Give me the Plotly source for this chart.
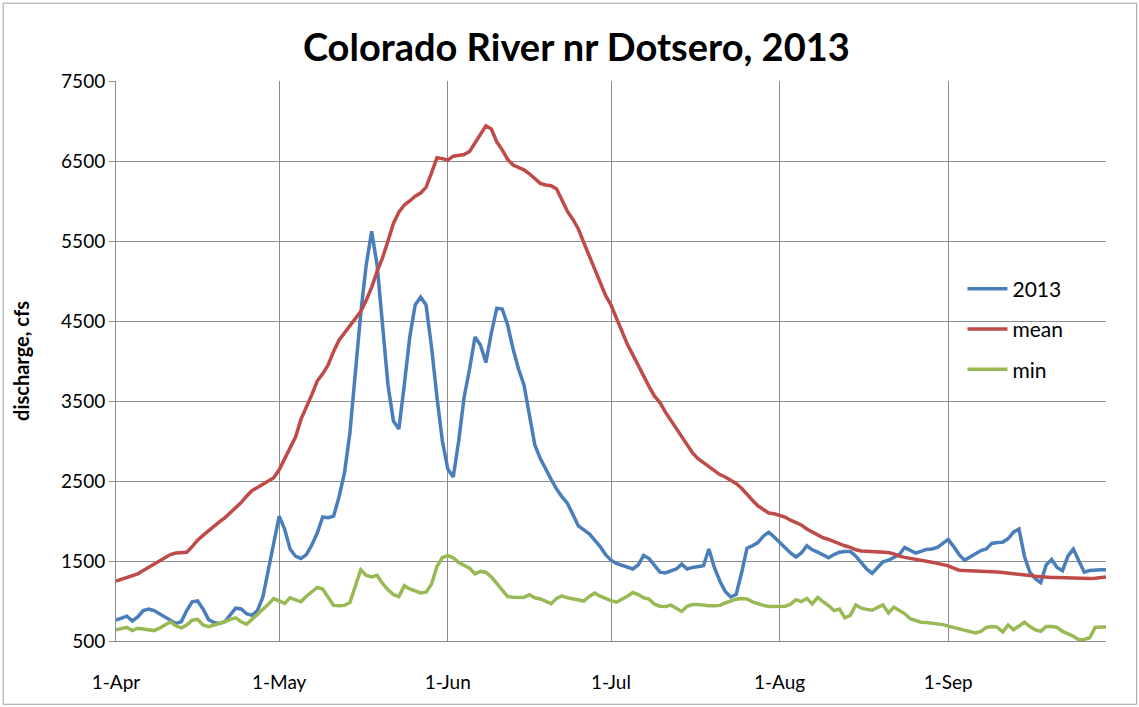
import pandas as pd
import plotly.graph_objects as go

start_date = "2013-04-01"
n_days = 183

flow_2013 = [
    760, 790, 810, 750, 800, 880, 900, 880, 840, 800,
    750, 720, 740, 880, 990, 1000, 900, 770, 730, 720,
    740, 820, 910, 900, 840, 820, 880, 1050, 1400, 1750,
    2060, 1900, 1650, 1560, 1530, 1580, 1700, 1850, 2050, 2040,
    2060, 2300, 2600, 3100, 3850, 4600, 5200, 5620, 5200, 4400,
    3700, 3250, 3150, 3700, 4300, 4700, 4800, 4700, 4180, 3550,
    3000, 2650, 2550, 3000, 3550, 3900, 4300, 4200, 3980, 4350,
    4660, 4650, 4450, 4150, 3900, 3700, 3300, 2950, 2780, 2640,
    2520, 2400, 2300, 2220, 2080, 1940, 1890, 1840, 1760, 1680,
    1580, 1510, 1470, 1450, 1430, 1400, 1450, 1570, 1530, 1440,
    1360, 1350, 1380, 1400, 1460, 1400, 1420, 1430, 1440, 1650,
    1420, 1250, 1120, 1050, 1080, 1350, 1660, 1690, 1730, 1810,
    1860, 1800, 1730, 1660, 1600, 1550, 1600, 1690, 1640, 1610,
    1570, 1540, 1580, 1610, 1620, 1620, 1560, 1480, 1400, 1345,
    1420, 1490, 1510, 1540, 1580, 1670, 1640, 1600, 1620, 1645,
    1650, 1670, 1720, 1770, 1680, 1580, 1510, 1550, 1600, 1630,
    1650, 1720, 1730, 1735, 1780, 1860, 1900, 1560, 1360, 1280,
    1230, 1450, 1520, 1420, 1380, 1560, 1650, 1500, 1360, 1380,
    1390, 1390, 1390,
]

flow_mean = [
    1250, 1270, 1300, 1310, 1340, 1380, 1420, 1460, 1500, 1540,
    1580, 1600, 1600, 1610, 1680, 1760, 1820, 1880, 1930, 1990,
    2040, 2100, 2160, 2230, 2310, 2380, 2420, 2460, 2500, 2540,
    2640, 2780, 2930, 3050, 3270, 3420, 3580, 3750, 3840, 3950,
    4120, 4260, 4350, 4450, 4540, 4620, 4760, 4920, 5120, 5290,
    5500, 5720, 5860, 5950, 6000, 6060, 6100, 6170, 6350, 6540,
    6530, 6510, 6560, 6570, 6580, 6620, 6730, 6850, 6940, 6900,
    6740, 6640, 6520, 6450, 6420, 6390, 6340, 6280, 6220, 6200,
    6190, 6150, 6020, 5870, 5770, 5650, 5480, 5320, 5160, 4990,
    4820, 4700, 4540, 4380, 4210, 4080, 3940, 3810, 3680, 3560,
    3480, 3360, 3260, 3160, 3060, 2950, 2850, 2780, 2730, 2680,
    2620, 2580, 2550, 2510, 2470, 2410, 2330, 2260, 2190, 2140,
    2100, 2090, 2070, 2050, 2010, 1980, 1950, 1900, 1860, 1820,
    1790, 1770, 1740, 1720, 1690, 1670, 1640, 1625, 1620, 1620,
    1620, 1615, 1605, 1590, 1560, 1545, 1535, 1525, 1515, 1500,
    1485, 1470, 1455, 1440, 1410, 1385, 1380, 1378, 1377, 1377,
    1375, 1370, 1362, 1356, 1350, 1345, 1338, 1330, 1320, 1310,
    1302, 1298, 1295, 1293, 1290, 1287, 1285, 1283, 1282, 1282,
    1285, 1295, 1300,
]

flow_min = [
    640, 660, 670, 630, 660, 650, 640, 630, 660, 700,
    740, 690, 665, 700, 760, 770, 700, 680, 700, 710,
    740, 770, 790, 740, 710, 770, 830, 900, 960, 1030,
    1000, 970, 1040, 1010, 990, 1060, 1120, 1170, 1150, 1050,
    945, 940, 945, 980, 1180, 1390, 1320, 1300, 1320, 1220,
    1140, 1080, 1056, 1190, 1150, 1120, 1100, 1110, 1210, 1430,
    1544, 1567, 1540, 1480, 1450, 1410, 1340, 1370, 1360, 1300,
    1220, 1130, 1056, 1047, 1047, 1045, 1078, 1040, 1025, 1000,
    967, 1033, 1065, 1040, 1025, 1010, 1000, 1056, 1100, 1060,
    1030, 1005, 985, 1020, 1060, 1106, 1080, 1040, 1023, 960,
    935, 930, 948, 910, 870, 935, 955, 955, 945, 940,
    940, 945, 975, 1002, 1023, 1030, 1025, 990, 965, 945,
    932, 932, 932, 934, 960, 1017, 992, 1033, 963, 1045,
    990, 942, 880, 900, 790, 820, 950, 910, 895, 885,
    920, 950, 850, 921, 880, 840, 780, 760, 735, 730,
    725, 718, 705, 686, 670, 655, 635, 620, 600, 620,
    670, 680, 674, 612, 700, 640, 690, 735, 680, 640,
    620, 680, 680, 670, 620, 590, 560, 515, 520, 540,
    670, 674, 674,
]

tick_dates = ["2013-04-01", "2013-05-01", "2013-06-01", "2013-07-01", "2013-08-01", "2013-09-01"]
tick_labels = ["1-Apr", "1-May", "1-Jun", "1-Jul", "1-Aug", "1-Sep"]
y_ticks = [500, 1500, 2500, 3500, 4500, 5500, 6500, 7500]

dates = pd.date_range(start_date, periods=n_days, freq="D")

series = [
    ("2013", flow_2013, "#4A7EBB"),
    ("mean", flow_mean, "#BE4B48"),
    ("min", flow_min, "#98B954"),
]

fig = go.Figure()
for i, (name, vals, color) in enumerate(series):
    fig.add_trace(go.Scatter(
        x=dates, y=vals, name=name, mode="lines",
        line=dict(color=color, width=3.5),
        legendgroup=f"g{i}",
    ))

font_family = "Lato, 'Open Sans', sans-serif"

fig.update_layout(
    width=1139, height=707,
    margin=dict(l=116, r=33, t=81, b=66),
    paper_bgcolor="white", plot_bgcolor="white",
    title=dict(text="<b>Colorado River nr Dotsero, 2013</b>",
               x=0.506, xanchor="center", y=0.933, yanchor="middle",
               font=dict(family=font_family, size=38, color="black")),
    showlegend=True,
    legend=dict(x=0.855, y=0.665, xanchor="left", yanchor="top",
                font=dict(family=font_family, size=21, color="black"),
                tracegroupgap=10, itemwidth=40, bgcolor="rgba(0,0,0,0)"),
    font=dict(family=font_family, color="black"),
)

fig.update_xaxes(
    range=["2013-04-01", "2013-09-30"],
    tickvals=tick_dates, ticktext=tick_labels,
    showgrid=True, gridcolor="#8C8C8C", gridwidth=1,
    showline=True, linecolor="#8C8C8C", linewidth=1,
    ticks="", tickfont=dict(size=19, color="black"),
    ticklabelstandoff=24, zeroline=False,
)
fig.update_yaxes(
    range=[500, 7500], tickvals=y_ticks,
    showgrid=True, gridcolor="#8C8C8C", gridwidth=1,
    showline=True, linecolor="#8C8C8C", linewidth=1,
    ticks="outside", ticklen=6, tickcolor="#8C8C8C",
    tickfont=dict(size=19, color="black"),
    title=dict(text="<b>discharge, cfs</b>", font=dict(size=20, color="black"), standoff=26),
    zeroline=False,
)

# chart-area border
fig.add_shape(type="rect", xref="paper", yref="paper",
              x0=-0.114, x1=1.031, y0=-0.113, y1=1.139,
              line=dict(color="#A0A0A0", width=1), layer="below")

fig.write_html("out.html", config={"displayModeBar": False},
               post_script="document.body.style.margin='0';")
